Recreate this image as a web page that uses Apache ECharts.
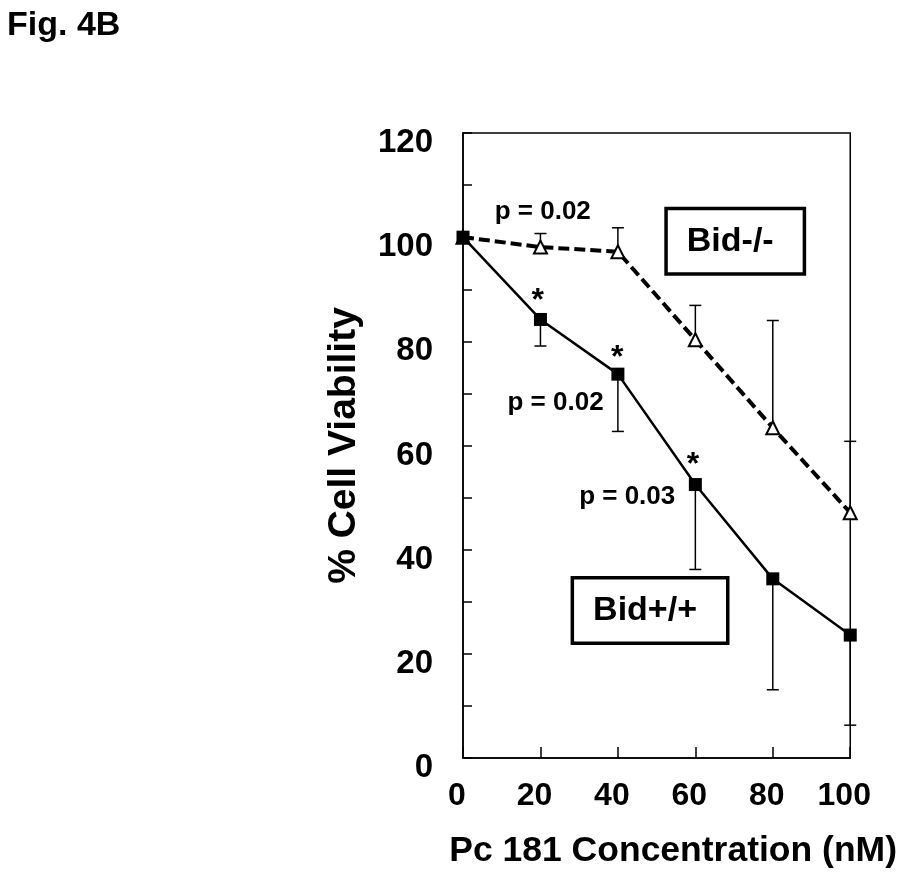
<!DOCTYPE html>
<html>
<head>
<meta charset="utf-8">
<script src="https://cdn.jsdelivr.net/npm/echarts@6/dist/echarts.min.js"></script>
<style>
html,body{margin:0;padding:0;background:#fff;}
#chart{width:900px;height:885px;}
</style>
</head>
<body>
<div id="chart"></div>
<script>
// ---- data ----
const concentrations = [0, 20, 40, 60, 80, 100];
const bidKO = [100, 98.1, 97.2, 80.3, 63.4, 47.1];          // Bid-/- (open triangles, dashed)
const bidKOErrUp = [0, 2.6, 4.6, 6.6, 20.6, 13.7];
const bidWT = [100, 84.2, 73.7, 52.5, 34.4, 23.6];          // Bid+/+ (filled squares, solid)
const bidWTErrDown = [0, 5.1, 11.0, 16.3, 21.3, 17.3];
const xTickLabels = ['0', '20', '40', '60', '80', '100'];
const yTickLabels = ['0', '20', '40', '60', '80', '100', '120'];
const starPos = [[19.3, 87.7], [39.8, 76.8], [59.4, 56.3]];
const pValueTexts = ['p = 0.02', 'p = 0.02', 'p = 0.03'];
const pValuePos = [[20.6, 104.8], [23.9, 68.2], [42.4, 50.1]];
const groupNames = ['Bid-/-', 'Bid+/+'];
const groupLabelPos = [[70.3, 99.2], [48.3, 28.3]];
const chartTitle = 'Fig. 4B';
const xTitle = 'Pc 181 Concentration (nM)';
const yTitle = '% Cell Viability';

const FONT = "'Liberation Sans', Arial, Helvetica, sans-serif";
const chart = echarts.init(document.getElementById('chart'), null, {renderer: 'canvas'});

function errorBars(ys, errs, dir) {
  return {
    type: 'custom',
    z: 1,
    silent: true,
    renderItem: function (params, api) {
      const x = api.value(0), y = api.value(1), e = api.value(2);
      if (!e) return null;
      const p0 = api.coord([x, y]);
      const p1 = api.coord([x, y + dir * e]);
      const hw = 6;
      return {
        type: 'group',
        children: [
          {type: 'line', shape: {x1: p0[0], y1: p0[1], x2: p1[0], y2: p1[1]}, style: {stroke: '#000', lineWidth: 1.5}},
          {type: 'line', shape: {x1: p1[0] - hw, y1: p1[1], x2: p1[0] + hw, y2: p1[1]}, style: {stroke: '#000', lineWidth: 1.5}}
        ]
      };
    },
    data: concentrations.map((x, i) => [x, ys[i], errs[i]])
  };
}

function textSeries(pos, texts, fontSize, extraStyle) {
  return {
    type: 'custom',
    z: 6,
    silent: true,
    clip: false,
    renderItem: function (params, api) {
      const p = api.coord([api.value(0), api.value(1)]);
      const style = Object.assign({
        text: texts[params.dataIndex],
        x: p[0], y: p[1],
        font: 'bold ' + fontSize + 'px ' + FONT,
        fill: '#000',
        align: 'center', verticalAlign: 'middle',
        textAlign: 'center', textVerticalAlign: 'middle'
      }, extraStyle || {});
      return {type: 'text', style: style};
    },
    data: pos
  };
}

const option = {
  animation: false,
  backgroundColor: '#fff',
  graphic: [{
    type: 'text', left: 7, top: 9,
    style: {text: chartTitle, font: "bold 34px " + FONT, fill: '#000'}
  }],
  grid: {left: 463, right: 48, top: 133, bottom: 127, show: true, borderColor: '#000', borderWidth: 1.5, backgroundColor: 'transparent'},
  xAxis: {
    type: 'value', min: 0, max: 100, interval: 20,
    name: xTitle, nameLocation: 'middle', nameGap: 75,
    nameTextStyle: {fontFamily: FONT, fontWeight: 'bold', fontSize: 35.5, color: '#000', padding: [0, 0, 0, 33]},
    axisLine: {show: true, lineStyle: {color: '#000', width: 1.5}},
    axisTick: {show: true, inside: true, length: 11, lineStyle: {color: '#000', width: 1.5}},
    splitLine: {show: false},
    axisLabel: {
      fontFamily: FONT, fontWeight: 'bold', fontSize: 32, color: '#000', margin: 38, verticalAlign: 'middle',
      padding: [0, 12, 0, 0],
      formatter: function (v) { const i = concentrations.indexOf(v); return i >= 0 ? xTickLabels[i] : ''; }
    }
  },
  yAxis: {
    type: 'value', min: 0, max: 120, interval: 10,
    name: yTitle, nameLocation: 'middle', nameGap: 99, nameRotate: 90,
    nameTextStyle: {fontFamily: FONT, fontWeight: 'bold', fontSize: 39, color: '#000'},
    axisLine: {show: true, lineStyle: {color: '#000', width: 1.5}},
    axisTick: {show: true, inside: true, length: 9, lineStyle: {color: '#000', width: 1.5}},
    splitLine: {show: false},
    axisLabel: {
      fontFamily: FONT, fontWeight: 'bold', fontSize: 33, color: '#000', margin: 30,
      verticalAlign: 'top', lineHeight: 20,
      formatter: function (v) { return v % 20 === 0 ? yTickLabels[v / 20] : ''; }
    }
  },
  series: [
    errorBars(bidKO, bidKOErrUp, 1),
    errorBars(bidWT, bidWTErrDown, -1),
    {
      type: 'line', name: groupNames[0], z: 3,
      data: concentrations.map((x, i) => [x, bidKO[i]]),
      symbol: 'triangle', symbolSize: [13, 13],
      itemStyle: {color: '#fff', borderColor: '#000', borderWidth: 2},
      lineStyle: {color: '#000', width: 4, type: [11, 5]}
    },
    {
      type: 'line', name: groupNames[1], z: 4,
      data: concentrations.map((x, i) => [x, bidWT[i]]),
      symbol: 'rect', symbolSize: 13,
      itemStyle: {color: '#000', borderColor: '#000', borderWidth: 0},
      lineStyle: {color: '#000', width: 2.5, type: 'solid'}
    },
    textSeries(starPos, ['*', '*', '*'], 32),
    textSeries(pValuePos, pValueTexts, 26),
    textSeries(groupLabelPos, groupNames, 34, {
      backgroundColor: '#fff', borderColor: '#000', borderWidth: 3.5,
      padding: [14, 29, 14, 19], lineHeight: 34
    })
  ]
};
chart.setOption(option);
</script>
</body>
</html>
